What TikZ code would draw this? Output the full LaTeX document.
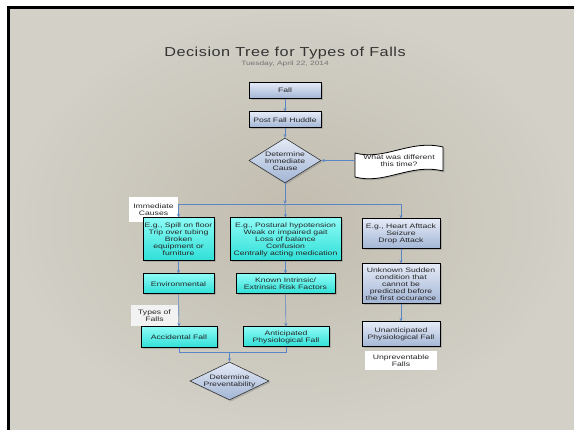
\documentclass[tikz,border=0pt]{standalone}
\usepackage{fontspec}
\setmainfont{Liberation Sans}[FakeStretch=1.35]
\newfontfamily\titlefont{Liberation Sans}[FakeStretch=1.25,LetterSpace=4]
\usetikzlibrary{shapes.geometric,shadows,arrows.meta}
\definecolor{bgin}{HTML}{C1BCAE}
\definecolor{bgout}{HTML}{D2D0C7}
\definecolor{conn}{HTML}{5A86C5}
\definecolor{cyantop}{HTML}{8CFBF5}
\definecolor{cyanbot}{HTML}{2EDFD7}
\definecolor{bluetop}{HTML}{E4EAF6}
\definecolor{bluebot}{HTML}{A2B5D5}
\begin{document}
\begin{tikzpicture}[x=1pt,y=-1pt,
  txt/.style={font=\fontsize{6.4}{7}\selectfont, align=center, text=black!85},
  shad/.style={drop shadow={shadow xshift=1.5pt, shadow yshift=-1.5pt, opacity=0.4}},
  box/.style={txt, rectangle, draw=black, line width=1pt, inner sep=0pt, shad},
  cyanbox/.style={box, top color=cyantop, bottom color=cyanbot},
  bluebox/.style={box, top color=bluetop, bottom color=bluebot},
  tag/.style={txt, rectangle, fill=white, inner sep=0pt},
  dia/.style={diamond, draw=black!80, line width=0.6pt, inner sep=0pt, top color=bluetop, bottom color=bluebot, shad},
  link/.style={draw=conn, line width=0.6pt},
  arr/.style={link, -{Stealth[length=3.5pt,width=3pt]}},
]
\useasboundingbox (0,0) rectangle (574,430);
\fill[white] (0,0) rectangle (574,430);
\shade[inner color=bgin, outer color=bgout] (8,8) rectangle (574,430);
\draw[black, line width=3pt] (8,430) -- (8,7.5) -- (574,7.5);

% title
\node[text=black!80, font=\titlefont\fontsize{13}{15}\selectfont] (title) at (285,53) {Decision Tree for Types of Falls};
\node[text=black!55, font=\fontsize{6.2}{8}\selectfont] (date) at (285,63.5) {Tuesday, April 22, 2014};

% top chain
\node[bluebox, minimum width=72pt, minimum height=16pt] (fall) at (285,90.5) {Fall};
\node[bluebox, minimum width=72pt, minimum height=16pt] (huddle) at (285,120) {Post Fall Huddle};
\node[dia, minimum width=72pt, minimum height=45pt] (d1) at (285,160.5) {};
\node[txt] (d1t) at (285,161) {Determine\\Immediate\\Cause};

% wavy note
\path[draw=black, line width=0.8pt, fill=white, shad]
  (355,153) .. controls (385,161) and (410,139) .. (443,147)
  -- (443,171) .. controls (410,163) and (385,185) .. (355,177) -- cycle;
\coordinate (wl) at (355,160.5);
\node[txt] (wavet) at (399,161) {What was different\\this time?};

% middle row
\coordinate (br) at (285,204);
\node[tag, minimum width=49pt, minimum height=25pt] (immc) at (153.5,209.5) {Immediate\\Causes};
\node[cyanbox, minimum width=71pt, minimum height=43pt] (lb) at (178.5,239.5) {E.g., Spill on floor\\Trip over tubing\\Broken\\equipment or\\furniture};
\node[cyanbox, minimum width=111pt, minimum height=43pt] (cb) at (285.5,239.5) {E.g., Postural hypotension\\Weak or impaired gait\\Loss of balance\\Confusion\\Centrally acting medication};
\node[bluebox, minimum width=78pt, minimum height=30pt] (rb) at (401,234) {E.g., Heart Afttack\\Seizure\\Drop Attack};

\node[cyanbox, minimum width=71pt, minimum height=20pt] (env) at (178.5,284) {Environmental};
\node[cyanbox, minimum width=99pt, minimum height=20pt] (known) at (285.5,284) {Known Intrinsic/\\Extrinsic Risk Factors};
\node[bluebox, minimum width=78pt, minimum height=40pt] (unk) at (401,284) {Unknown Sudden\\condition that\\cannot be\\predicted before\\the first occurance};

\node[tag, fill=white!95!black, minimum width=47pt, minimum height=21pt] (types) at (154.5,315.5) {Types of\\Falls};
\node[cyanbox, minimum width=76pt, minimum height=21pt] (acc) at (179,337.5) {Accidental Fall};
\node[cyanbox, minimum width=86pt, minimum height=20pt] (ant) at (286,337) {Anticipated\\Physiological Fall};
\node[bluebox, minimum width=78pt, minimum height=25pt] (unant) at (401,334.5) {Unanticipated\\Physiological Fall};
\node[tag, minimum width=72pt, minimum height=19pt] (unprev) at (401,360.5) {Unpreventable\\Falls};

\coordinate (m) at (229.5,352);
\node[dia, minimum width=79pt, minimum height=38pt] (d2) at (229.5,381) {};
\node[txt] (d2t) at (229.5,381) {Determine\\Preventability};

% connectors
\draw[arr] (fall) -- (huddle);
\draw[arr] (huddle) -- (d1);
\draw[arr] (wl) -- (d1.east);
\draw[arr] (d1.south) -- (br);
\draw[link] (lb.north |- br) -- (rb.north |- br);
\draw[arr] (br) -| (lb.north);
\draw[arr] (br) -- (cb.north);
\draw[arr] (br) -| (rb.north);
\draw[arr] (lb) -- (env);
\draw[arr] (env) -- (acc);
\draw[arr] (cb) -- (known);
\draw[arr] (known) -- (ant);
\draw[arr] (rb) -- (unk);
\draw[arr] (unk) -- (unant);
\draw[link] (acc.south) -- (acc.south |- m) -- (ant.south |- m) -- (ant.south);
\draw[arr] (m) -- (d2.north);
\end{tikzpicture}
\end{document}
